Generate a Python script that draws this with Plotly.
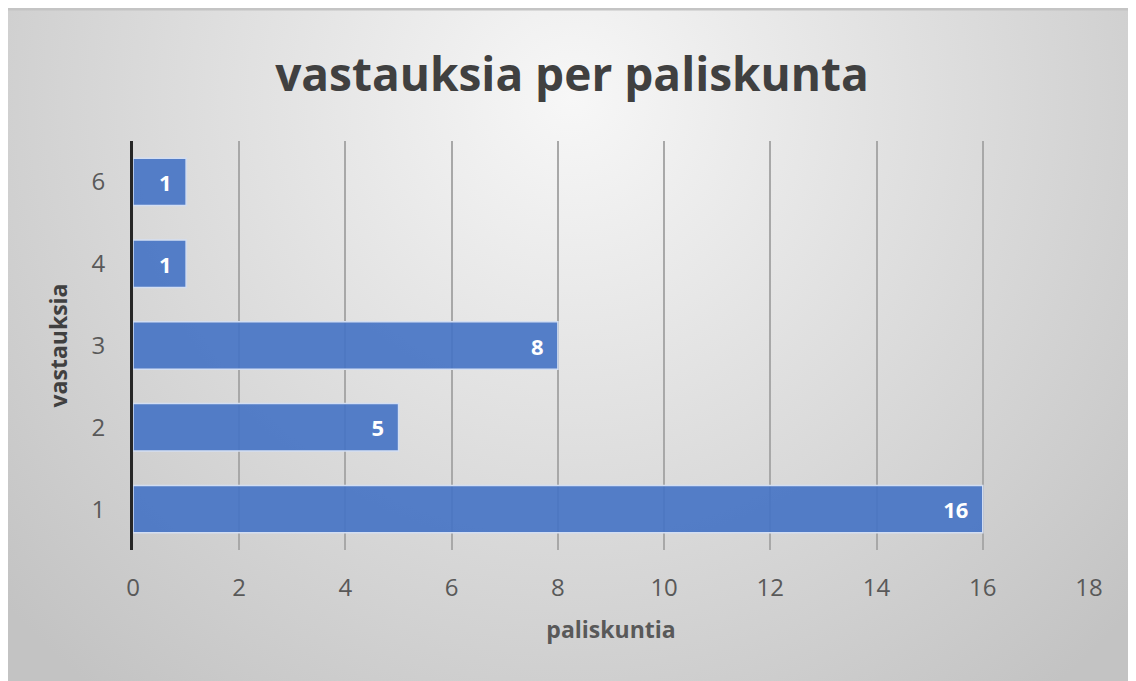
import base64
import plotly.graph_objects as go

categories = ["1", "2", "3", "4", "6"]
values = [16, 5, 8, 1, 1]
x_ticks = [0, 2, 4, 6, 8, 10, 12, 14, 16, 18]

title_text = "vastauksia per paliskunta"
x_title = "paliskuntia"
y_title = "vastauksia"

# page has an 8px body margin; figure fills the rest of the window
W, H = 1128, 673
ml, mr, mt, mb = 125, 47, 133, 131
pw = W - ml - mr
ph = H - mt - mb

svg = f"""<svg xmlns='http://www.w3.org/2000/svg' width='{W}' height='{H}' viewBox='0 0 {W} {H}'>
<defs><radialGradient id='g' gradientUnits='userSpaceOnUse' cx='564' cy='90' r='760'>
<stop offset='0' stop-color='#f7f7f7'/><stop offset='1' stop-color='#c3c3c3'/></radialGradient></defs>
<rect x='0' y='0' width='{W}' height='{H}' fill='url(#g)'/>
<rect x='0' y='0' width='{W}' height='2.5' fill='#c4c4c4'/>
</svg>"""
src = "data:image/svg+xml;base64," + base64.b64encode(svg.encode()).decode()

font = "'Open Sans', sans-serif"

fig = go.Figure()
fig.add_trace(go.Bar(
    y=categories, x=values, orientation="h",
    marker=dict(color="rgba(68,114,196,0.9)", line=dict(color="#d3def2", width=1.5)),
    text=values, texttemplate="%{x}\u00a0\u00a0",
    textposition="inside", insidetextanchor="end",
    textfont=dict(color="white", size=22, family=font, weight="bold"),
    cliponaxis=False,
))

fig.update_layout(
    width=W, height=H,
    margin=dict(l=ml, r=mr, t=mt, b=mb),
    paper_bgcolor="#dedede",
    plot_bgcolor="rgba(0,0,0,0)",
    bargap=0.42,
    showlegend=False,
    font=dict(family=font, color="#595959"),
    title=dict(text=title_text, x=0.5, xref="container", xanchor="center",
               y=1 - 67 / H, yref="container", yanchor="middle",
               font=dict(size=46, color="#404040", family=font, weight="bold")),
    images=[dict(source=src, xref="paper", yref="paper",
                 x=-ml / pw, y=(H - mb) / ph,
                 sizex=W / pw, sizey=H / ph,
                 xanchor="left", yanchor="top", sizing="stretch", layer="below")],
    xaxis=dict(range=[0, 18], tickvals=x_ticks, showgrid=True,
               gridcolor="#a8a8a8", gridwidth=2, zeroline=False, showline=False,
               ticks="outside", ticklen=16, tickcolor="rgba(0,0,0,0)",
               tickfont=dict(size=24, color="#595959", family=font),
               title=dict(text=x_title, standoff=20,
                          font=dict(size=23, color="#595959", family=font, weight="bold"))),
    yaxis=dict(type="category", categoryorder="array", categoryarray=categories,
               range=[-0.5, 4.5], showgrid=False, zeroline=False,
               showline=True, linecolor="#262626", linewidth=3,
               ticks="outside", ticklen=20, tickcolor="rgba(0,0,0,0)",
               tickfont=dict(size=24, color="#595959", family=font),
               title=dict(text=y_title, standoff=18,
                          font=dict(size=23, color="#404040", family=font, weight="bold"))),
)

fig.write_html("out.html")
